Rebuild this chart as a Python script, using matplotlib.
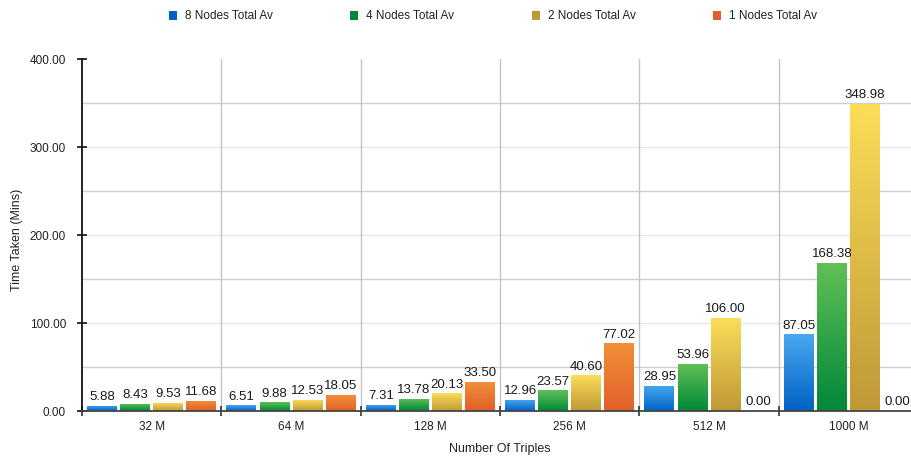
import numpy as np
import matplotlib.pyplot as plt
from matplotlib.colors import LinearSegmentedColormap
from matplotlib.patches import Rectangle

plt.rcParams['font.family'] = ['Liberation Sans', 'DejaVu Sans']

categorias = ["32 M", "64 M", "128 M", "256 M", "512 M", "1000 M"]
series = ["8 Nodes Total Av", "4 Nodes Total Av", "2 Nodes Total Av", "1 Nodes Total Av"]
nodos_8 = [5.88, 6.51, 7.31, 12.96, 28.95, 87.05]
nodos_4 = [8.43, 9.88, 13.78, 23.57, 53.96, 168.38]
nodos_2 = [9.53, 12.53, 20.13, 40.60, 106.00, 348.98]
nodos_1 = [11.68, 18.05, 33.50, 77.02, 0.00, 0.00]

# colores del degradado (arriba, abajo)
degradados = [("#4aa8f0", "#0062c4"),
              ("#62c058", "#008838"),
              ("#fbde58", "#bf9836"),
              ("#f28f38", "#e05f2a")]

fig = plt.figure(figsize=(9.12, 4.59), dpi=100)
ax = fig.add_axes([82 / 912, 48 / 459, 836 / 912, 352 / 459])

n = len(categorias)
x = np.arange(n)
ancho = 0.215
paso = 0.237
offsets = (np.arange(4) - 1.5) * paso
valores = [nodos_8, nodos_4, nodos_2, nodos_1]

grad = np.linspace(0, 1, 256).reshape(-1, 1)
for i, vals in enumerate(valores):
    cmap = LinearSegmentedColormap.from_list("g%d" % i, [degradados[i][1], degradados[i][0]])
    barras = ax.bar(x + offsets[i], vals, ancho, color="none", edgecolor="none", zorder=3)
    for b, v in zip(barras, vals):
        if v > 0:
            x0 = b.get_x()
            img = ax.imshow(grad, cmap=cmap, origin="lower", aspect="auto",
                            extent=[x0, x0 + b.get_width(), 0, v], zorder=3)
            img.set_clip_path(b)
        ax.text(b.get_x() + b.get_width() / 2, v + 3, f"{v:.2f}",
                ha="center", va="bottom", fontsize=9.5, color="#1a1a1a", zorder=4)

ax.set_xlim(-0.5, n - 0.5)
ax.set_ylim(0, 400)

# rejilla
for y in [100, 200, 300]:
    ax.axhline(y, color="#e8e8e8", lw=1, zorder=1)
for y in [50, 150, 250, 350]:
    ax.axhline(y, color="#cfcfcf", lw=1, zorder=1)
for xb in np.arange(0.5, n - 0.5, 1):
    ax.axvline(xb, color="#c4c4c4", lw=1, zorder=1)

ax.set_yticks([0, 100, 200, 300, 400])
ax.set_yticklabels([f"{v:.2f}" for v in [0, 100, 200, 300, 400]], fontsize=8.5, color="#222222")
ax.set_xticks(np.arange(-0.5, n, 1))
ax.set_xticklabels([])
ax.set_xticks(x, minor=True)
ax.set_xticklabels(categorias, minor=True, fontsize=8.5, color="#222222")
ax.tick_params(axis="y", direction="inout", length=7, width=1.2, color="#111111", pad=8)
ax.tick_params(axis="x", which="major", direction="inout", length=7, width=1.2, color="#333333")
ax.tick_params(axis="x", which="minor", length=0, pad=7)

for s in ["top", "right"]:
    ax.spines[s].set_visible(False)
ax.spines["left"].set_color("#111111")
ax.spines["left"].set_linewidth(1.3)
ax.spines["bottom"].set_color("#444444")
ax.spines["bottom"].set_linewidth(1.3)
ax.spines["bottom"].set_zorder(5)

ax.set_xlabel("Number Of Triples", fontsize=9, color="#222222")
ax.set_ylabel("Time Taken (Mins)", fontsize=9, color="#222222")
ax.xaxis.set_label_coords((500 - 82) / 836, (411 - 449) / 352)
ax.xaxis.label.set_va("center")
ax.yaxis.set_label_coords((17 - 82) / 836, (411 - 240) / 352)
ax.yaxis.label.set_va("center")

# leyenda
for i, nombre in enumerate(series):
    lx = [169, 350, 532, 713][i]
    cuadro = Rectangle((lx / 912, 1 - 20 / 459), 8 / 912, 9 / 459,
                       transform=fig.transFigure, facecolor=degradados[i][1], edgecolor="none")
    fig.patches.append(cuadro)
    fig.text((lx + 16) / 912, 1 - 16 / 459, nombre, fontsize=8.5, color="#222222", va="center")

fig.savefig("out.png", dpi=100)
